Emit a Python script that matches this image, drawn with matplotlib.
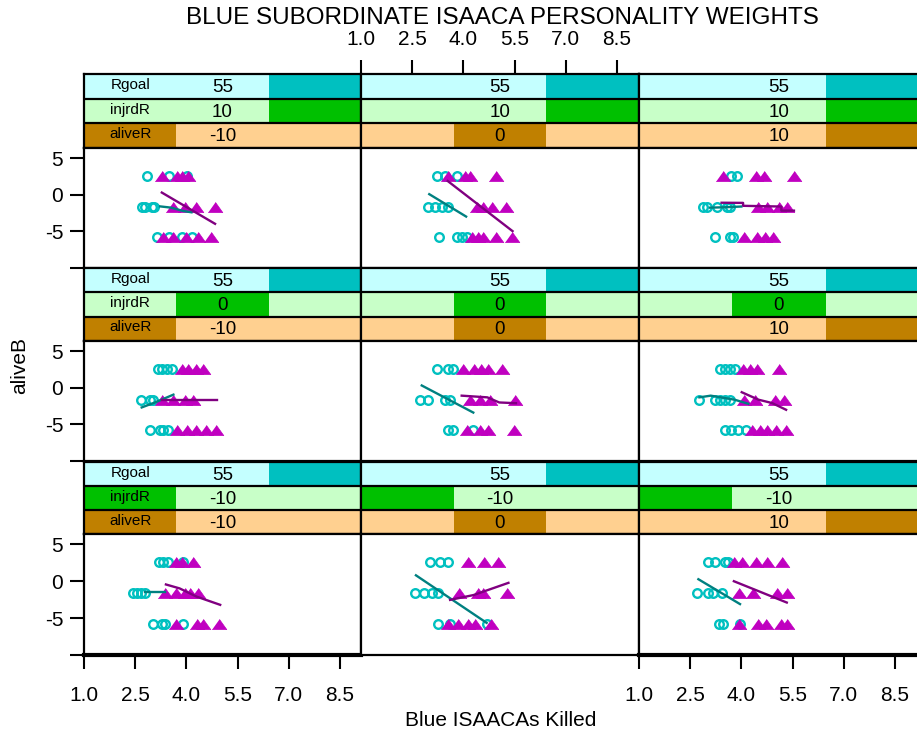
import matplotlib
matplotlib.use('Agg')
import matplotlib.pyplot as plt
from matplotlib.patches import Rectangle

plt.rcParams['font.family'] = ['Liberation Sans', 'DejaVu Sans']

# aliveB groups (y position of each row of points)
alive_y = [2.6, -1.6, -5.8]

# strip values: rows are injrdR, columns are aliveR, Rgoal fixed
rgoal_value = 55
injrd_rows = [10, 0, -10]
alive_cols = [-10, 0, 10]
weight_levels = [-10, 0, 10]
rgoal_slot = 2  # 55 is the last level of Rgoal

x_ticks = [1.0, 2.5, 4.0, 5.5, 7.0, 8.5]
y_ticks = [-10, -5, 0, 5]
y_ticklabels = ['', '-5', '0', '5']

# x values of the open circles / triangles at each aliveB level (top, mid, bottom)
circ_r1c1 = [[2.84, 3.50, 4.01], [2.69, 2.78, 3.00, 3.06], [3.13, 3.50, 3.86, 4.15]]
tri_r1c1 = [[3.28, 3.72, 3.86, 4.06], [3.62, 3.96, 4.28, 4.84], [3.32, 3.62, 3.99, 4.35, 4.71]]
circ_r1c2 = [[3.22, 3.46, 3.80], [2.97, 3.17, 3.36, 3.56], [3.29, 3.80, 3.95, 4.10]]
tri_r1c2 = [[3.56, 4.05, 4.19, 4.95], [4.39, 4.58, 4.83, 5.25], [4.24, 4.44, 4.58, 4.95, 5.41]]
circ_r1c3 = [[3.71, 3.88], [2.88, 3.00, 3.28, 3.57, 3.67], [3.23, 3.67, 3.76]]
tri_r1c3 = [[3.45, 4.43, 4.66, 5.54], [4.50, 4.76, 5.11, 5.35], [4.08, 4.45, 4.69, 4.92]]

circ_r2c1 = [[3.18, 3.28, 3.42, 3.57], [2.66, 2.93, 3.03], [2.93, 3.23, 3.32, 3.47]]
tri_r2c1 = [[3.86, 4.06, 4.28, 4.50], [3.28, 3.62, 3.96, 4.20], [3.72, 4.01, 4.28, 4.57, 4.87]]
circ_r2c2 = [[3.22, 3.56, 3.70], [2.73, 2.97, 3.46, 3.61], [3.56, 3.70, 4.29]]
tri_r2c2 = [[4.00, 4.31, 4.53, 4.73, 5.12], [4.19, 4.49, 4.78, 5.51], [4.10, 4.49, 4.73, 5.49]]
circ_r2c3 = [[3.37, 3.52, 3.67, 3.81], [2.77, 3.23, 3.37, 3.52, 3.67], [3.52, 3.71, 3.91, 4.13]]
tri_r2c3 = [[4.06, 4.25, 4.45, 5.11], [4.08, 4.40, 4.98, 5.25], [4.30, 4.54, 4.74, 5.01, 5.31]]

circ_r3c1 = [[3.21, 3.32, 3.47, 3.89], [2.43, 2.54, 2.66, 2.79], [3.01, 3.28, 3.37, 3.91]]
tri_r3c1 = [[3.71, 3.86, 4.20], [3.37, 3.71, 3.96, 4.11, 4.35], [3.71, 4.32, 4.50, 4.97]]
circ_r3c2 = [[3.02, 3.31, 3.56], [2.58, 2.85, 3.07, 3.27], [3.27, 3.61, 4.68]]
tri_r3c2 = [[4.14, 4.60, 5.00], [3.88, 4.44, 4.58, 5.27], [3.56, 3.85, 4.14, 4.34, 4.81]]
circ_r3c3 = [[3.03, 3.23, 3.52, 3.62], [2.69, 3.03, 3.18, 3.42], [3.35, 3.47, 3.96]]
tri_r3c3 = [[3.78, 4.01, 4.43, 4.76, 5.18], [3.94, 4.33, 5.03, 5.35], [3.94, 4.50, 4.72, 5.15, 5.35]]

# smoothed fit lines (x list, y list)
teal_r1c1 = ([3.23, 3.55, 3.90, 4.15], [-1.58, -1.75, -2.20, -2.39])
purp_r1c1 = ([3.28, 4.84], [0.31, -3.96])
teal_r1c2 = ([3.00, 4.08], [0.09, -2.97])
purp_r1c2 = ([3.54, 5.44], [1.89, -4.96])
teal_r1c3 = ([3.08, 3.50, 4.00], [-1.75, -1.70, -1.60])
purp_r1c3 = ([3.42, 4.05, 4.05, 5.17, 5.17, 5.54], [-1.08, -1.10, -1.50, -1.60, -2.16, -2.16])

teal_r2c1 = ([2.69, 3.08, 3.62], [-2.68, -2.00, -0.93])
purp_r2c1 = ([3.28, 4.89], [-1.62, -1.62])
teal_r2c2 = ([2.78, 4.29], [0.32, -3.38])
purp_r2c2 = ([3.95, 4.70, 5.05, 5.54], [-1.07, -1.30, -2.00, -2.10])
teal_r2c3 = ([2.77, 3.10, 3.80, 4.20], [-1.30, -1.07, -1.62, -2.18])
purp_r2c3 = ([4.01, 4.50, 4.90, 5.31], [-0.60, -1.62, -2.08, -3.00])

teal_r3c1 = ([2.79, 3.37], [-1.51, -1.51])
purp_r3c1 = ([3.40, 3.80, 4.30, 4.99], [-0.44, -0.97, -2.09, -3.20])
teal_r3c2 = ([2.61, 4.68], [0.80, -5.64])
purp_r3c2 = ([3.61, 4.30, 5.32], [-2.53, -1.87, -0.22])
teal_r3c3 = ([2.74, 3.96], [0.27, -3.10])
purp_r3c3 = ([3.78, 5.33], [0.00, -2.89])

circles = [[circ_r1c1, circ_r1c2, circ_r1c3],
           [circ_r2c1, circ_r2c2, circ_r2c3],
           [circ_r3c1, circ_r3c2, circ_r3c3]]
triangles = [[tri_r1c1, tri_r1c2, tri_r1c3],
             [tri_r2c1, tri_r2c2, tri_r2c3],
             [tri_r3c1, tri_r3c2, tri_r3c3]]
teal_fits = [[teal_r1c1, teal_r1c2, teal_r1c3],
             [teal_r2c1, teal_r2c2, teal_r2c3],
             [teal_r3c1, teal_r3c2, teal_r3c3]]
purp_fits = [[purp_r1c1, purp_r1c2, purp_r1c3],
             [purp_r2c1, purp_r2c2, purp_r2c3],
             [purp_r3c1, purp_r3c2, purp_r3c3]]

strip_names = ['Rgoal', 'injrdR', 'aliveR']
strip_light = ['#c4ffff', '#c8ffc8', '#ffd090']
strip_dark = ['#00c0c0', '#00c000', '#c08000']

# layout in pixels
W, H = 917, 733
col_left = [84, 361, 639]
col_width = [277, 278, 280]
strip_top = [74, 268, 462]
panel_top = [148, 341, 534]
panel_h = [120, 120, 121]
px_per_unit = 34.13

fig = plt.figure(figsize=(W / 100, H / 100), dpi=100)


def box(x, y, w, h):
    return [x / W, 1 - (y + h) / H, w / W, h / H]


tri_marker = [(-1, -0.7), (1, -0.7), (0, 0.7)]

for r in range(3):
    for c in range(3):
        xmax = 1 + col_width[c] / px_per_unit

        # --- strips ---
        sa = fig.add_axes(box(col_left[c], strip_top[r], col_width[c],
                              panel_top[r] - strip_top[r]))
        sa.set_xlim(1, xmax)
        sa.set_ylim(0, 1)
        values = [rgoal_value, injrd_rows[r], alive_cols[c]]
        slots = [rgoal_slot, weight_levels.index(injrd_rows[r]),
                 weight_levels.index(alive_cols[c])]
        for k in range(3):
            y0 = 1 - (k + 1) / 3
            sa.add_patch(Rectangle((0, y0), 1, 1 / 3, transform=sa.transAxes,
                                   facecolor=strip_light[k], edgecolor='none'))
            sa.add_patch(Rectangle((slots[k] / 3, y0), 1 / 3, 1 / 3,
                                   transform=sa.transAxes,
                                   facecolor=strip_dark[k], edgecolor='none'))
            sa.text(0.5, y0 + 1 / 6 - 0.015, str(values[k]), transform=sa.transAxes,
                    ha='center', va='center', fontsize=13.5)
            if c == 0:
                sa.text(1 / 6, y0 + 1 / 6 + 0.02, strip_names[k],
                        transform=sa.transAxes, ha='center', va='center',
                        fontsize=11)
        for yl in (1 / 3, 2 / 3):
            sa.axhline(yl, color='black', lw=1.6)
        for s in sa.spines.values():
            s.set_linewidth(1.6)
        sa.set_yticks([])
        if r == 0 and c == 1:
            sa.xaxis.tick_top()
            sa.set_xticks(x_ticks)
            sa.set_xticklabels([f'{t:.1f}' for t in x_ticks])
            sa.tick_params(axis='x', direction='out', length=10, width=1.5,
                           pad=8, labelsize=15)
        else:
            sa.set_xticks([])

        # --- panel ---
        ax = fig.add_axes(box(col_left[c], panel_top[r], col_width[c], panel_h[r]))
        ax.set_xlim(1, xmax)
        ax.set_ylim(-10, 6.4)
        for s in ax.spines.values():
            s.set_linewidth(1.6)

        for i in range(3):
            xs = circles[r][c][i]
            ax.plot(xs, [alive_y[i]] * len(xs), linestyle='none', marker='o',
                    ms=6.2, mfc='none', mec='#00c0c0', mew=1.7)
        for i in range(3):
            xs = triangles[r][c][i]
            ax.plot(xs, [alive_y[i]] * len(xs), linestyle='none',
                    marker=tri_marker, ms=10.5, mfc='#c000c0', mec='#c000c0', mew=0.5)
        tx, ty = teal_fits[r][c]
        ax.plot(tx, ty, color='#008080', lw=1.7)
        px, py = purp_fits[r][c]
        ax.plot(px, py, color='#800080', lw=1.7)

        if c == 0:
            ax.set_yticks(y_ticks)
            ax.set_yticklabels(y_ticklabels)
            ax.tick_params(axis='y', direction='out', length=10, width=1.5,
                           pad=5, labelsize=15)
        else:
            ax.set_yticks([])
        if r == 2 and c in (0, 2):
            ax.set_xticks(x_ticks)
            ax.set_xticklabels([f'{t:.1f}' for t in x_ticks])
            ax.tick_params(axis='x', direction='out', length=10, width=1.5,
                           pad=12, labelsize=15)
            ax.spines['bottom'].set_linewidth(3)
        else:
            ax.set_xticks([])

fig.text(502 / W, 1 - 18 / H, 'BLUE SUBORDINATE ISAACA PERSONALITY WEIGHTS',
         ha='center', va='center', fontsize=17.5)
fig.text(501 / W, 1 - 720 / H, 'Blue ISAACAs Killed', ha='center', va='center',
         fontsize=15)
fig.text(20 / W, 1 - 365 / H, 'aliveB', ha='center', va='center',
         rotation=90, fontsize=15)

fig.savefig('out.png', dpi=100)
